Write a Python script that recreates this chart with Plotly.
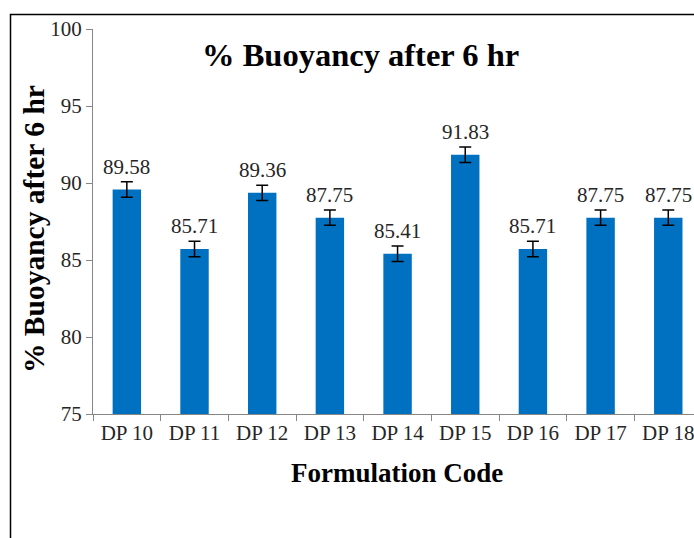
import plotly.graph_objects as go

categories = ["DP 10", "DP 11", "DP 12", "DP 13", "DP 14", "DP 15", "DP 16", "DP 17", "DP 18"]
values = [89.58, 85.71, 89.36, 87.75, 85.41, 91.83, 85.71, 87.75, 87.75]
errors = [0.5, 0.5, 0.5, 0.5, 0.5, 0.5, 0.5, 0.5, 0.5]
y_ticks = [75, 80, 85, 90, 95, 100]
title_text = "% Buoyancy after 6 hr"
x_title = "Formulation Code"
y_title = "% Buoyancy after 6 hr"

W, H = 694, 538
ML, MT = 93, 29
PLOT_BOTTOM = 414
MB = H - PLOT_BOTTOM
MR = 0
PW = W - ML - MR
PH = H - MT - MB

def px_x(p):
    return (p - ML) / PW

def px_y(p):
    return (PLOT_BOTTOM - p) / PH

serif = "Liberation Serif, Times New Roman, serif"

fig = go.Figure()
fig.add_trace(go.Bar(
    x=categories, y=values,
    marker=dict(color="#0070C0", line=dict(width=0)),
    width=0.42,
    error_y=dict(type="data", array=errors, color="black", thickness=1.5, width=6),
    hoverinfo="skip",
))

annotations = []
for c, v, e in zip(categories, values, errors):
    annotations.append(dict(
        x=c, y=v + e, xref="x", yref="y", text=f"{v:.2f}", showarrow=False,
        yanchor="middle", yshift=15,
        font=dict(family=serif, size=21, color="#262626"),
    ))
annotations.append(dict(
    x=px_x(360), y=px_y(55), xref="paper", yref="paper", text=f"<b>{title_text}</b>",
    showarrow=False, xanchor="center", yanchor="middle",
    font=dict(family=serif, size=32.5, color="black"),
))
annotations.append(dict(
    x=px_x(396.5), y=px_y(473), xref="paper", yref="paper", text=f"<b>{x_title}</b>",
    showarrow=False, xanchor="center", yanchor="middle",
    font=dict(family=serif, size=27, color="black"),
))
annotations.append(dict(
    x=px_x(34), y=px_y(229), xref="paper", yref="paper", text=f"<b>{y_title}</b>",
    showarrow=False, xanchor="center", yanchor="middle", textangle=-90,
    font=dict(family=serif, size=29.5, color="black"),
))

fig.update_layout(
    width=W, height=H,
    margin=dict(l=ML, r=MR, t=MT, b=MB, pad=0),
    paper_bgcolor="white", plot_bgcolor="white",
    showlegend=False,
    annotations=annotations,
    shapes=[dict(
        type="rect", xref="paper", yref="paper",
        x0=px_x(10.5), x1=1.3, y0=-0.6, y1=px_y(14.5),
        line=dict(color="black", width=1.5), layer="below",
    )],
    xaxis=dict(
        type="category", range=[-0.5, 8.38],
        showline=True, linecolor="#868686", linewidth=1.3,
        ticks="outside", tickson="boundaries", ticklen=6, tickcolor="#868686",
        tickfont=dict(family=serif, size=21, color="#262626"),
        showgrid=False, zeroline=False,
    ),
    yaxis=dict(
        range=[75, 100], tickvals=y_ticks,
        showline=True, linecolor="#868686", linewidth=1.3,
        ticks="outside", ticklen=6, tickcolor="#868686",
        tickfont=dict(family=serif, size=21, color="#262626"),
        showgrid=False, zeroline=False,
    ),
)

fig.write_html(
    "out.html",
    config={"displayModeBar": False},
    post_script="document.body.style.margin='0';document.body.style.overflow='hidden';document.documentElement.style.overflow='hidden';",
)
